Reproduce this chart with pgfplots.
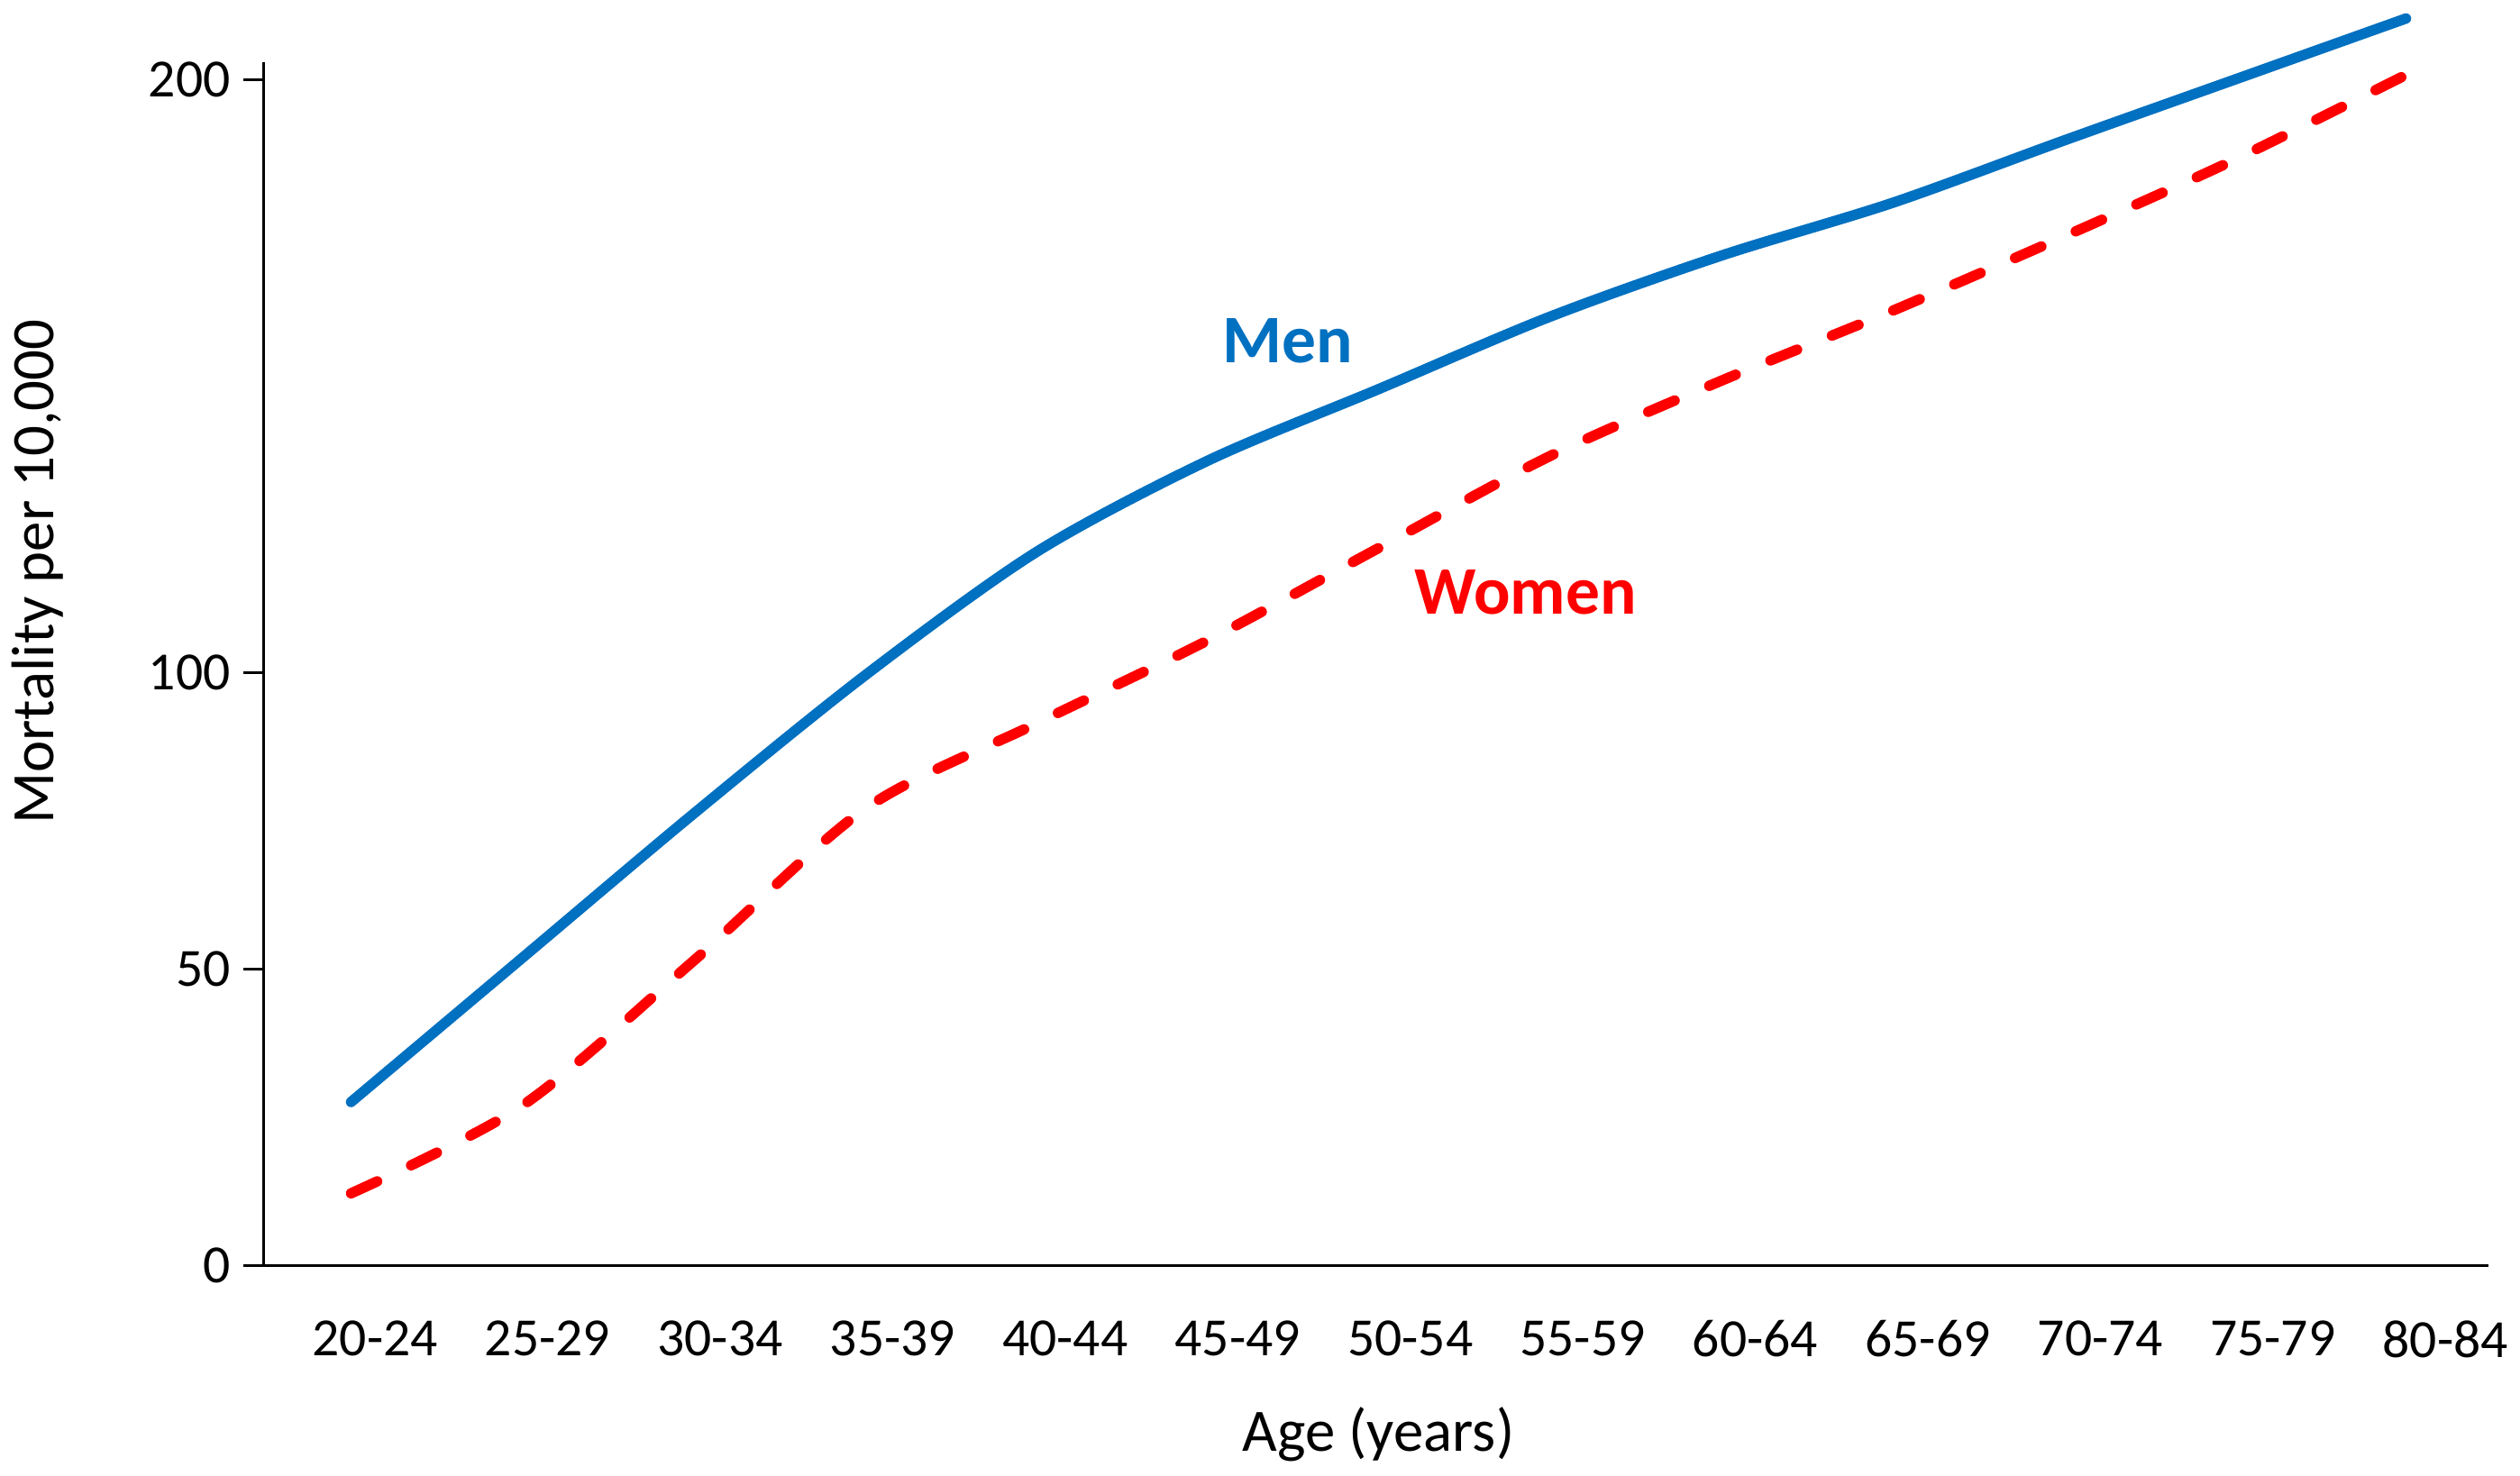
\documentclass[border=0pt]{standalone}
\usepackage{pgfplots}
\pgfplotsset{compat=1.18}
\usepackage{fontspec}
\setmainfont{Carlito}
\definecolor{menblue}{RGB}{0,112,192}
\definecolor{womenred}{RGB}{255,0,0}

\begin{document}
\begin{tikzpicture}
% fixed page frame (2796 x 1647 px at 0.25pt/px)
\path (-71.5pt,-58.5pt) rectangle (627.5pt,353.25pt);
\begin{axis}[
  at={(0,0)}, anchor=south west,
  scale only axis,
  width=620.7pt, height=336pt,
  xmin=-0.51, xmax=12.48,
  ymin=0, ymax=203,
  axis lines=left,
  axis line style={black, line width=0.9pt, -},
  % labels sit a little to the right of the curve points, as in the original
  xtick={0.14,1.1475,2.155,3.1625,4.17,5.1775,6.185,7.1925,8.2,9.2075,10.215,11.2225,12.23},
  xticklabels={20-24,25-29,30-34,35-39,40-44,45-49,50-54,55-59,60-64,65-69,70-74,75-79,80-84},
  x tick style={draw=none},
  ytick={0,50,100,200},
  y tick style={black, line width=0.9pt},
  tick align=outside,
  major tick length=5.8pt,
  tick label style={font=\fontsize{15}{18}\selectfont},
  /pgf/number format/assume math mode=true,
  xticklabel style={yshift=-6pt},
  every axis x label/.style={at={(axis cs:6,-28.4)}, anchor=center},
  every axis y label/.style={at={(axis cs:-1.83,117)}, rotate=90, anchor=center},
  label style={font=\fontsize{16.8}{20}\selectfont},
  xlabel={Age (years)},
  ylabel={Mortality per 10,000},
  clip=false,
]
% Men
\addplot[menblue, line width=2.9pt, smooth, line cap=round] coordinates {
  (0,27.6) (1,51.9) (2,76.2) (3,99.5) (4,120.3) (5,135.7) (6,147.8)
  (7,160) (8,170.3) (9,179.2) (10,189.7) (11,200) (12,210.3)
};
% Women
\addplot[womenred, line width=2.9pt, smooth, line cap=round, dash pattern=on 8pt off 10.5pt] coordinates {
  (0,12.2) (1,27) (2,51.4) (3,77) (4,91.4) (5,105.4) (6,121)
  (7,136.5) (8,149.2) (9,161) (10,173.5) (11,186.5) (12,200.8)
};
\node[font=\fontsize{19}{22}\selectfont\bfseries, text=menblue] at (axis cs:5.47,156) {Men};
\node[font=\fontsize{19}{22}\selectfont\bfseries, text=womenred] at (axis cs:6.86,113.5) {Women};
\end{axis}
\end{tikzpicture}
\end{document}
